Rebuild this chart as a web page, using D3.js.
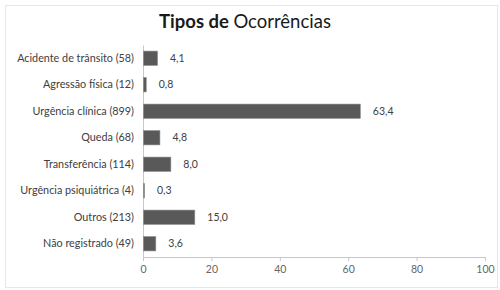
<!DOCTYPE html>
<html>
<head>
<meta charset="utf-8">
<script src="https://cdn.jsdelivr.net/npm/d3@7"></script>
<style>
  body { margin: 0; background: #fff; }
  svg { font-family: Lato, "Open Sans", sans-serif; }
</style>
</head>
<body>
<svg id="chart" width="500" height="290"></svg>
<script>
// data
const categories = [
  "Acidente de trânsito (58)",
  "Agressão física (12)",
  "Urgência clínica (899)",
  "Queda (68)",
  "Transferência (114)",
  "Urgência psiquiátrica (4)",
  "Outros (213)",
  "Não registrado (49)"
];
const values = [4.1, 0.8, 63.4, 4.8, 8.0, 0.3, 15.0, 3.6];
const xTicks = [0, 20, 40, 60, 80, 100];

const svg = d3.select("#chart");
const margin = { top: 45, right: 15, bottom: 33, left: 143 };
const width = +svg.attr("width");
const height = +svg.attr("height");
const innerWidth = width - margin.left - margin.right;
const innerHeight = height - margin.top - margin.bottom;

// outer frame
svg.append("rect")
  .attr("x", 5.5).attr("y", 5.5).attr("width", 492).attr("height", 282)
  .attr("fill", "none").attr("stroke", "#e6e6e6");

// title
const title = svg.append("text")
  .attr("x", 245).attr("y", 28)
  .attr("text-anchor", "middle")
  .attr("font-size", 18.5).attr("fill", "#1a1a1a");
title.append("tspan").attr("font-weight", "bold").text("Tipos de ");
title.append("tspan").text("Ocorrências");

const g = svg.append("g").attr("transform", `translate(${margin.left},${margin.top})`);

const x = d3.scaleLinear().domain([0, 100]).range([0, innerWidth]);
const y = d3.scaleBand().domain(categories).range([0, innerHeight]).paddingInner(0.46).paddingOuter(0.23);

// x axis
const xAxis = g.append("g")
  .attr("transform", `translate(0,${innerHeight})`)
  .call(d3.axisBottom(x).tickValues(xTicks).tickSize(4).tickSizeOuter(4).tickPadding(5));
xAxis.select(".domain").attr("stroke", "#c8c8c8");
xAxis.selectAll(".tick line").attr("stroke", "#c8c8c8");
xAxis.selectAll(".tick text").attr("fill", "#666").attr("font-size", 10.5).attr("font-family", "Lato, sans-serif");

// y axis
const yAxis = g.append("g")
  .call(d3.axisLeft(y).tickSize(0).tickPadding(9));
yAxis.select(".domain").attr("stroke", "#c8c8c8");
yAxis.selectAll(".tick text").attr("fill", "#404040").attr("font-size", 10.8).attr("font-family", "Lato, sans-serif");

// bars
g.selectAll(".bar")
  .data(values).join("rect")
  .attr("class", "bar")
  .attr("x", 0.5)
  .attr("y", (d, i) => y(categories[i]))
  .attr("width", d => x(d))
  .attr("height", y.bandwidth())
  .attr("fill", "#595959")
  .attr("stroke", "#8a8a8a").attr("stroke-width", 0.6);

// value labels
g.selectAll(".val")
  .data(values).join("text")
  .attr("class", "val")
  .attr("x", d => x(d) + 13)
  .attr("y", (d, i) => y(categories[i]) + y.bandwidth() / 2)
  .attr("dy", "0.35em")
  .attr("font-size", 10.5).attr("fill", "#404040")
  .text(d => d.toFixed(1).replace(".", ","));
</script>
</body>
</html>
